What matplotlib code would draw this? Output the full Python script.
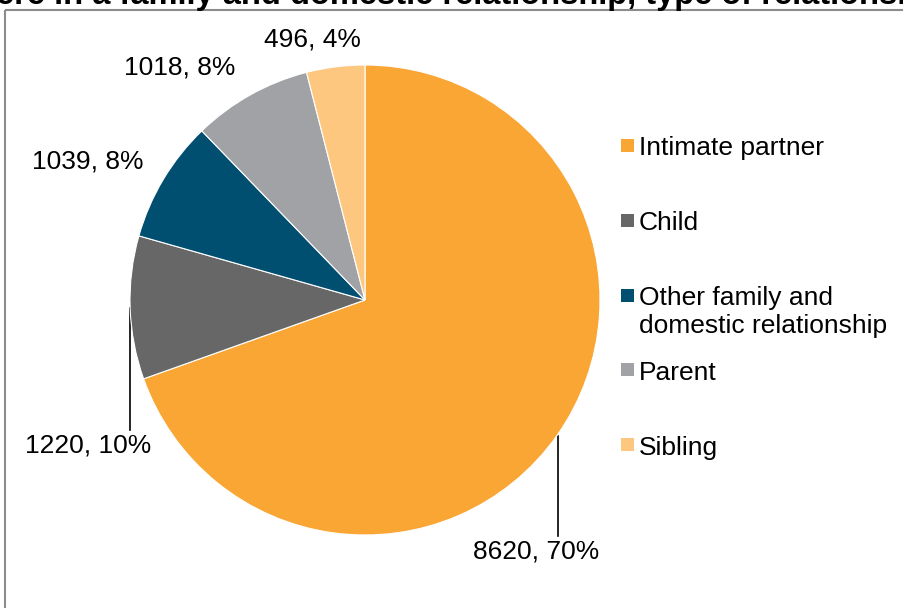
import matplotlib
matplotlib.use('Agg')
import matplotlib.pyplot as plt
from matplotlib.patches import Rectangle

plt.rcParams['font.family'] = ['Liberation Sans', 'DejaVu Sans']

# data
categories = ['Intimate partner', 'Child', 'Other family and\ndomestic relationship', 'Parent', 'Sibling']
counts = [8620, 1220, 1039, 1018, 496]
colors = ['#F9A634', '#676767', '#004F70', '#A1A2A6', '#FDC77F']
title = 'ere in a family and domestic relationship, type of relationshi'

W, H = 904, 608
fig = plt.figure(figsize=(W / 100, H / 100), dpi=100)

# overlay in pixel coords (y down)
bg = fig.add_axes([0, 0, 1, 1])
bg.set_xlim(0, W)
bg.set_ylim(H, 0)
bg.axis('off')

# chart border (cropped)
bg.add_patch(Rectangle((5.5, 9.5), 1000, 700, fill=False, edgecolor='#8c8c8c', lw=1.5))

# title, cut off by the top edge of the crop
bg.text(-4, 4, title, fontsize=23.5, fontweight='bold', ha='left', va='baseline')

# pie
cx, cy, r = 365, 300, 235
ax = fig.add_axes([(cx - r) / W, (H - cy - r) / H, 2 * r / W, 2 * r / H])
ax.pie(counts, colors=colors, startangle=90, counterclock=False,
       wedgeprops=dict(linewidth=0.8, edgecolor='white'))
ax.set_xlim(-1, 1)
ax.set_ylim(-1, 1)

# data labels
total = sum(counts)
label_pos = [(536, 552), (88, 446), (88, 162), (180, 68), (312, 40)]
for n, (lx, ly) in zip(counts, label_pos):
    pct = round(100 * n / total)
    bg.text(lx, ly, f'{n}, {pct}%', fontsize=19, ha='center', va='center')

# leader lines
bg.plot([558, 558], [436, 536], color='black', lw=1.2)
bg.plot([130, 130], [308, 430], color='black', lw=1.2)

# legend
leg_y = [146, 221, 296, 370, 445]
for lab, col, y in zip(categories, colors, leg_y):
    bg.add_patch(Rectangle((621, y - 7), 13, 13, facecolor=col, edgecolor='none'))
    for i, line in enumerate(lab.split('\n')):
        bg.text(639, y + 9.5 + i * 28, line, fontsize=19, ha='left', va='baseline')

fig.savefig('out.png', dpi=100)
